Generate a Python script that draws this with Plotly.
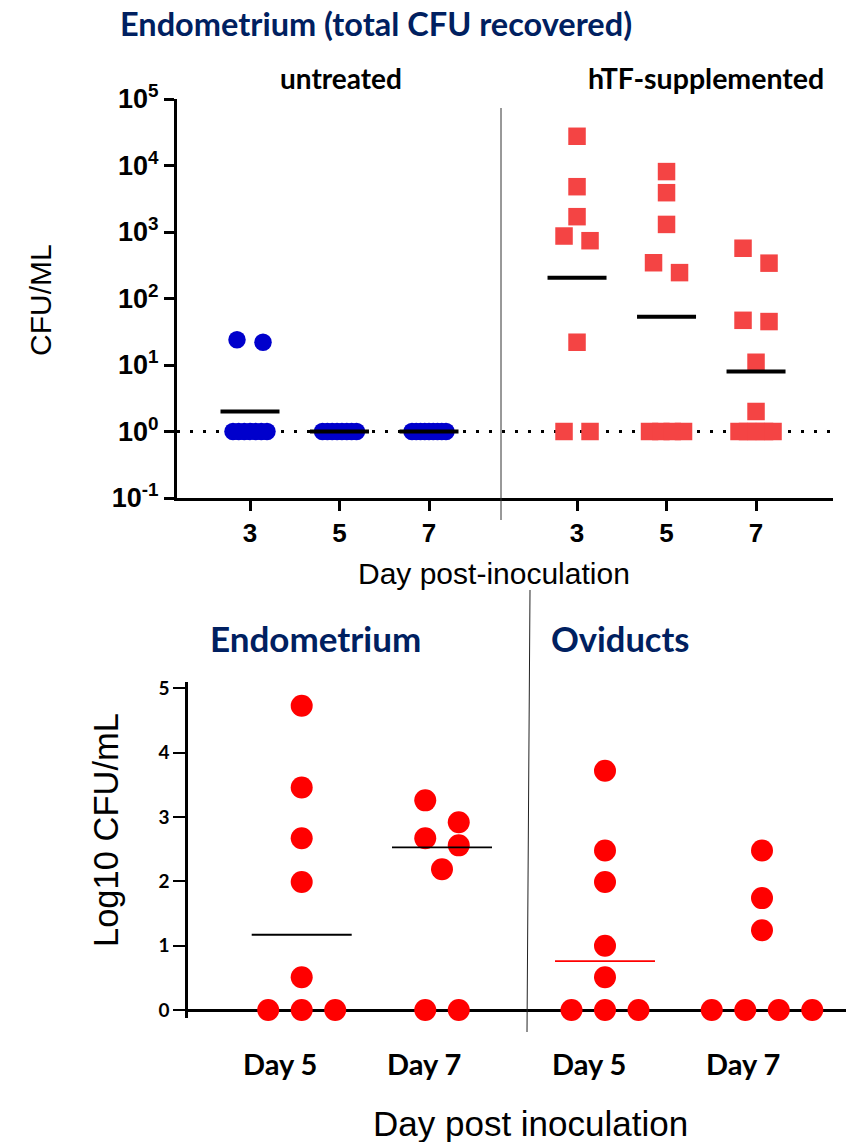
import math
import plotly.graph_objects as go

# ---------------- data ----------------
top_groups = ["untreated", "untreated", "untreated", "hTF-supplemented", "hTF-supplemented", "hTF-supplemented"]
top_tick_labels = ["3", "5", "7", "3", "5", "7"]
untreated_d3 = [24, 22, 1, 1, 1, 1, 1, 1, 1]
untreated_d5 = [1, 1, 1, 1, 1, 1, 1, 1]
untreated_d7 = [1, 1, 1, 1, 1, 1, 1, 1, 1]
htf_d3 = [27500, 4800, 1700, 870, 740, 22, 1, 1]
htf_d5 = [8100, 3900, 1300, 345, 245, 1, 1, 1, 1]
htf_d7 = [570, 340, 47, 45, 11, 2, 1, 1, 1, 1, 1]
top_center_lines = [2.0, 1.0, 1.0, 205, 53, 8.0]   # geometric means
detection_limit = 1
top_ytick_exp = [-1, 0, 1, 2, 3, 4, 5]

bottom_tick_labels = ["Day 5", "Day 7", "Day 5", "Day 7"]
endo_d5 = [4.73, 3.46, 2.67, 1.99, 0.51, 0, 0, 0]
endo_d7 = [3.26, 2.92, 2.67, 2.56, 2.19, 0, 0]
ovi_d5 = [3.72, 2.48, 1.99, 1.00, 0.51, 0, 0, 0]
ovi_d7 = [2.48, 1.74, 1.24, 0, 0, 0, 0]
bottom_medians = [1.17, 2.53, 0.76, None]
bottom_yticks = [0, 1, 2, 3, 4, 5]

# ---------------- layout constants ----------------
W, H = 846, 1142
ARIAL = "Liberation Sans, Arial, sans-serif"
CALIBRI = "Lato, Open Sans, sans-serif"
NAVY = "#002060"

# top panel pixel box
T_X0, T_X1, T_Y0, T_Y1 = 177, 833, 99, 498
top_pos = [0, 1, 2, 3.654, 4.654, 5.654]
top_ppu = 89.5
top_first_px = 250
top_xrange = [(T_X0 - top_first_px) / top_ppu, (T_X1 - top_first_px) / top_ppu]
top_ppd = (T_Y1 - T_Y0) / 6.0

# bottom panel pixel box
B_X0, B_X1, B_Y0, B_Y1 = 188, 846, 682, 1018
bot_ppu = 100.0
bot_xrange = [0, (B_X1 - B_X0) / bot_ppu]
bot_pos = [(c - B_X0) / bot_ppu for c in (301.7, 442, 605, 762)]
bot_label_px = [280, 424, 589, 743]
bot_yrange = [-0.124, 5.10]
bot_ppv = (B_Y1 - B_Y0) / (bot_yrange[1] - bot_yrange[0])


def swarm(vals, height_px, bin_px, step_px, max_spread_px):
    """Row-based beeswarm: returns horizontal pixel offsets."""
    h = [height_px(v) for v in vals]
    order = sorted(range(len(vals)), key=lambda i: -h[i])
    rows, cur, start = [], [], None
    for i in order:
        if cur and start - h[i] < bin_px:
            cur.append(i)
        else:
            if cur:
                rows.append(cur)
            cur, start = [i], h[i]
    if cur:
        rows.append(cur)
    off = [0.0] * len(vals)
    for row in rows:
        k = len(row)
        step = step_px if k == 1 else min(step_px, max_spread_px / (k - 1))
        for j, idx in enumerate(row):
            off[idx] = (j - (k - 1) / 2) * step
    return off


fig = go.Figure()

# ---------------- top panel ----------------
fig.add_trace(go.Scatter(x=top_xrange, y=[detection_limit, detection_limit], mode="lines",
                         line=dict(color="black", width=3, dash="3px,10px"),
                         xaxis="x", yaxis="y", showlegend=False, hoverinfo="skip"))

top_series = [untreated_d3, untreated_d5, untreated_d7, htf_d3, htf_d5, htf_d7]
for gi, vals in enumerate(top_series):
    offs = swarm(vals, lambda v: math.log10(v) * top_ppd, 19, 26, 34)
    xs = [top_pos[gi] + o / top_ppu for o in offs]
    if top_groups[gi] == "untreated":
        mk = dict(symbol="circle", size=17.5, color="#0000CC", line=dict(width=0))
    else:
        mk = dict(symbol="square", size=17.5, color="#F44444", line=dict(width=0))
    fig.add_trace(go.Scatter(x=xs, y=vals, mode="markers", marker=mk, xaxis="x", yaxis="y",
                             showlegend=False, cliponaxis=False))

half = 29.5 / top_ppu
for gi, c in enumerate(top_center_lines):
    fig.add_trace(go.Scatter(x=[top_pos[gi] - half, top_pos[gi] + half], y=[c, c], mode="lines",
                             line=dict(color="black", width=4), xaxis="x", yaxis="y",
                             showlegend=False, hoverinfo="skip"))

# ---------------- bottom panel ----------------
bot_series = [endo_d5, endo_d7, ovi_d5, ovi_d7]
for gi, vals in enumerate(bot_series):
    offs = swarm(vals, lambda v: v * bot_ppv, 23, 33.5, 200)
    xs = [bot_pos[gi] + o / bot_ppu for o in offs]
    fig.add_trace(go.Scatter(x=xs, y=vals, mode="markers",
                             marker=dict(symbol="circle", size=22, color="#FF0000", line=dict(width=0)),
                             xaxis="x2", yaxis="y2", showlegend=False, cliponaxis=False))

med_colors = ["black", "black", "#FF0000", "#FF0000"]
for gi, m in enumerate(bottom_medians):
    if m is None:
        continue
    fig.add_trace(go.Scatter(x=[bot_pos[gi] - 0.5, bot_pos[gi] + 0.5], y=[m, m], mode="lines",
                             line=dict(color=med_colors[gi], width=1.8), xaxis="x2", yaxis="y2",
                             showlegend=False, hoverinfo="skip"))


def px(x):
    return x / W


def py(y):
    return 1 - y / H


annotations = [
    dict(text="Endometrium (total CFU recovered)", x=px(376), y=py(23), font=dict(family=CALIBRI, size=32.5, color=NAVY, weight="bold")),
    dict(text="untreated", x=px(341), y=py(78), font=dict(family=CALIBRI, size=28, color="black", weight="bold")),
    dict(text="hTF-supplemented", x=px(706), y=py(78), font=dict(family=CALIBRI, size=28.5, color="black", weight="bold")),
    dict(text="CFU/ML", x=px(40), y=py(300), textangle=-90, font=dict(family=ARIAL, size=30, color="black")),
    dict(text="Day post-inoculation", x=px(494), y=py(573), font=dict(family=ARIAL, size=30, color="black")),
    dict(text="Endometrium", x=px(315), y=py(638), font=dict(family=CALIBRI, size=35, color=NAVY, weight="bold")),
    dict(text="Oviducts", x=px(620), y=py(638), font=dict(family=CALIBRI, size=34.5, color=NAVY, weight="bold")),
    dict(text="Log10 CFU/mL", x=px(106), y=py(830), textangle=-90, font=dict(family=ARIAL, size=34.5, color="black")),
    dict(text="Day post inoculation", x=px(530), y=py(1123), font=dict(family=ARIAL, size=35, color="black")),
]
for lab, lx in zip(bottom_tick_labels, bot_label_px):
    annotations.append(dict(text=lab, x=px(lx), y=py(1063), font=dict(family=CALIBRI, size=29, color="black", weight="bold")))
for a in annotations:
    a.update(xref="paper", yref="paper", xanchor="center", yanchor="middle", showarrow=False)

shapes = [
    dict(type="line", xref="paper", yref="paper", x0=px(501), x1=px(501), y0=py(108), y1=py(520),
         line=dict(color="#333333", width=1)),
    dict(type="line", xref="paper", yref="paper", x0=px(530), x1=px(527), y0=py(590), y1=py(1032),
         line=dict(color="#222222", width=1)),
]

fig.update_layout(
    width=W, height=H, margin=dict(l=0, r=0, t=0, b=0, autoexpand=False),
    paper_bgcolor="white", plot_bgcolor="white", showlegend=False,
    xaxis=dict(domain=[px(T_X0), px(T_X1)], range=top_xrange, anchor="y", automargin=False,
               showline=True, linewidth=3, linecolor="black", ticks="outside", ticklen=10, tickwidth=3,
               tickcolor="black", tickvals=top_pos, ticktext=top_tick_labels, ticklabelstandoff=0,
               tickfont=dict(family=ARIAL, size=26, color="black", weight="bold"),
               showgrid=False, zeroline=False),
    yaxis=dict(domain=[py(T_Y1), py(T_Y0)], type="log", range=[-1, 5], anchor="x", automargin=False,
               showline=True, linewidth=3, linecolor="black", ticks="outside", ticklen=10, tickwidth=3,
               tickcolor="black", tickvals=[10 ** e for e in top_ytick_exp],
               ticktext=["10<sup>%d</sup>" % e for e in top_ytick_exp],
               tickfont=dict(family=ARIAL, size=27, color="black", weight="bold"),
               showgrid=False, zeroline=False),
    xaxis2=dict(domain=[px(B_X0), px(B_X1)], range=bot_xrange, anchor="y2", automargin=False,
                showline=False, showticklabels=False, ticks="", showgrid=False, zeroline=False),
    yaxis2=dict(domain=[py(B_Y1), py(B_Y0)], range=bot_yrange, anchor="x2", automargin=False,
                showline=True, linewidth=2.5, linecolor="black", ticks="outside", ticklen=12, tickwidth=2,
                tickcolor="black", tickvals=bottom_yticks,
                tickfont=dict(family=CALIBRI, size=19, color="black", weight="bold"),
                showgrid=False, zeroline=True, zerolinecolor="black", zerolinewidth=2.5),
    annotations=annotations, shapes=shapes,
)

fig.write_html("out.html")
